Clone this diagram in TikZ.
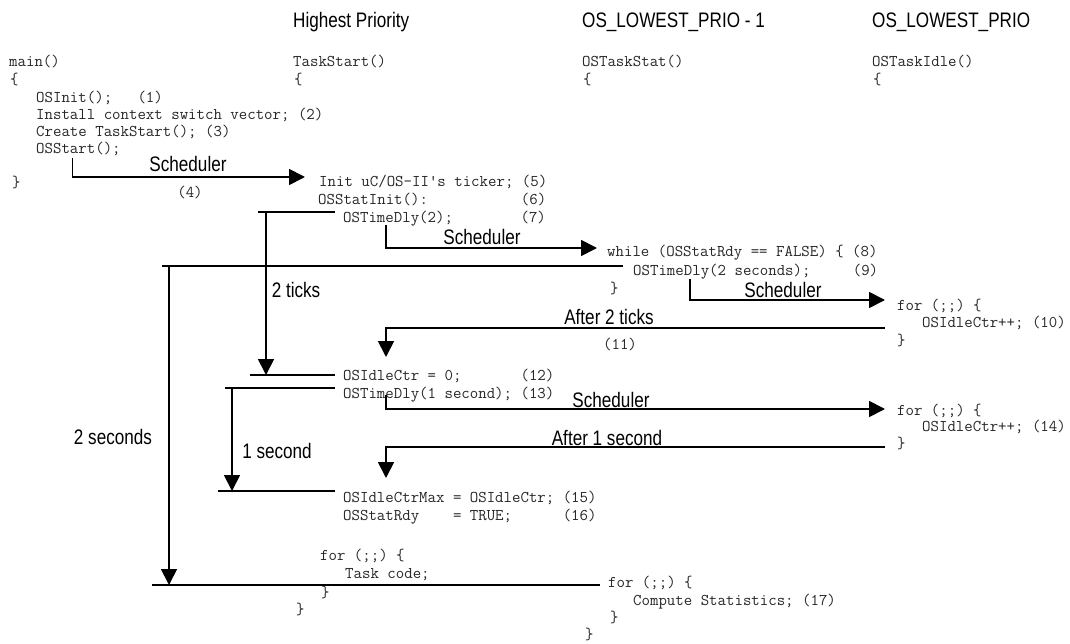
\documentclass[tikz,border=0pt]{standalone}
\usepackage{fontspec}
\usetikzlibrary{arrows.meta}
\newfontfamily\labfont[FakeStretch=0.815]{Liberation Sans}
\tikzset{
  code/.style={font=\ttfamily\fontsize{16.4}{17}\selectfont, anchor=base west, inner sep=0pt, text=black!85},
  lab/.style={font=\labfont\fontsize{21}{24}\selectfont, inner sep=0pt},
  head/.style={lab, anchor=base west},
  wire/.style={line width=1.8pt},
  arr/.style={wire, -{Triangle[length=16pt,width=16pt]}},
}
\begin{document}
\begin{tikzpicture}[x=1pt,y=-1pt]
\useasboundingbox (0,0) rectangle (1070,644);
% headers
\node[head] (h1) at (293,28) {Highest Priority};
\node[head] (h2) at (582,28) {OS\_LOWEST\_PRIO - 1};
\node[head] (h3) at (872,28) {OS\_LOWEST\_PRIO};
% main
\node[code] (m0) at (9,67) {main()};
\node[code] (m1) at (10,85) {\{};
\node[code] (m2) at (36,103) {OSInit();~~~(1)};
\node[code] (m3) at (36,120) {Install context switch vector; (2)};
\node[code] (m4) at (36,137) {Create TaskStart(); (3)};
\node[code] (m5) at (36,154) {OSStart();};
\node[code] (m6) at (12,188) {\}};
% TaskStart
\node[code] (t0) at (293,67) {TaskStart()};
\node[code] (t1) at (294,85) {\{};
\node[code] (t5) at (319,187) {Init uC/OS-II\textquotesingle{}s ticker; (5)};
\node[code] (t6) at (318,205) {OSStatInit():~~~~~~~~~~~(6)};
\node[code] (t7) at (343,223) {OSTimeDly(2);~~~~~~~~(7)};
\node[code] (t12) at (343,380) {OSIdleCtr = 0;~~~~~~~(12)};
\node[code] (t13) at (343,398) {OSTimeDly(1 second); (13)};
\node[code] (t15) at (343,502) {OSIdleCtrMax = OSIdleCtr; (15)};
\node[code] (t16) at (343,520) {OSStatRdy~~~~=~TRUE;~~~~~~(16)};
\node[code] (t20) at (320,560) {for (;;) \{};
\node[code] (t21) at (345,578) {Task code;};
\node[code] (t22) at (321,597) {\}};
\node[code] (t23) at (296,614) {\}};
% OSTaskStat
\node[code] (s0) at (582,67) {OSTaskStat()};
\node[code] (s1) at (583,85) {\{};
\node[code] (s8) at (607,257) {while (OSStatRdy == FALSE) \{ (8)};
\node[code] (s9) at (633,276) {OSTimeDly(2 seconds);~~~~~(9)};
\node[code] (s10) at (610,293) {\}};
\node[code] (s11) at (608,587) {for (;;) \{};
\node[code] (s12) at (633,605) {Compute Statistics; (17)};
\node[code] (s13) at (610,622) {\}};
\node[code] (s14) at (585,639) {\}};
% OSTaskIdle
\node[code] (i0) at (872,67) {OSTaskIdle()};
\node[code] (i1) at (873,85) {\{};
\node[code] (i2) at (897,310) {for (;;) \{};
\node[code] (i3) at (922,327) {OSIdleCtr++; (10)};
\node[code] (i4) at (897,345) {\}};
\node[code] (i5) at (897,415) {for (;;) \{};
\node[code] (i6) at (922,431) {OSIdleCtr++; (14)};
\node[code] (i7) at (897,448) {\}};
% step numbers on connectors
\node[code, anchor=base] (n4) at (190,198) {(4)};
\node[code, anchor=base] (n11) at (620,349) {(11)};
% connector labels
\node[lab] (l1) at (188,164) {Scheduler};
\node[lab] (l2) at (482,237) {Scheduler};
\node[lab] (l3) at (783,290) {Scheduler};
\node[lab] (l4) at (609,317) {After 2 ticks};
\node[lab] (l5) at (611,400) {Scheduler};
\node[lab] (l6) at (607,438) {After 1 second};
\node[lab] (l7) at (296,290) {2 ticks};
\node[lab] (l8) at (277,451) {1 second};
\node[lab] (l9) at (113,437) {2 seconds};
% coordinates
\coordinate (a1) at (72.5,158);
\coordinate (a2) at (305,177);
\coordinate (b0) at (258,212);
\coordinate (b1) at (335,212);
\coordinate (b2) at (266,212);
\coordinate (b3) at (266,375);
\coordinate (b4) at (250,375);
\coordinate (b5) at (335,375);
\coordinate (c1) at (386,225);
\coordinate (c2) at (597,248);
\coordinate (d0) at (162,266);
\coordinate (d1) at (623,266);
\coordinate (d2) at (169,266);
\coordinate (d3) at (169,585);
\coordinate (d4) at (152,585);
\coordinate (d5) at (600,585);
\coordinate (e1) at (690,279);
\coordinate (e2) at (885,300);
\coordinate (f1) at (885,328);
\coordinate (f2) at (386,357);
\coordinate (g0) at (225,388);
\coordinate (g1) at (335,388);
\coordinate (g2) at (232,388);
\coordinate (g3) at (232,491);
\coordinate (g4) at (218,491);
\coordinate (g5) at (335,491);
\coordinate (h1c) at (386,395);
\coordinate (h2c) at (885,409);
\coordinate (k1) at (885,447);
\coordinate (k2) at (386,478);
% connectors
\draw[arr] (a1) |- (a2);
\draw[wire] (b0) -- (b1);
\draw[arr] (b2) -- (b3);
\draw[wire] (b4) -- (b5);
\draw[arr] (c1) |- (c2);
\draw[wire] (d0) -- (d1);
\draw[arr] (d2) -- (d3);
\draw[wire] (d4) -- (d5);
\draw[arr] (e1) |- (e2);
\draw[arr] (f1) -| (f2);
\draw[wire] (g0) -- (g1);
\draw[arr] (g2) -- (g3);
\draw[wire] (g4) -- (g5);
\draw[arr] (h1c) |- (h2c);
\draw[arr] (k1) -| (k2);
\end{tikzpicture}
\end{document}
